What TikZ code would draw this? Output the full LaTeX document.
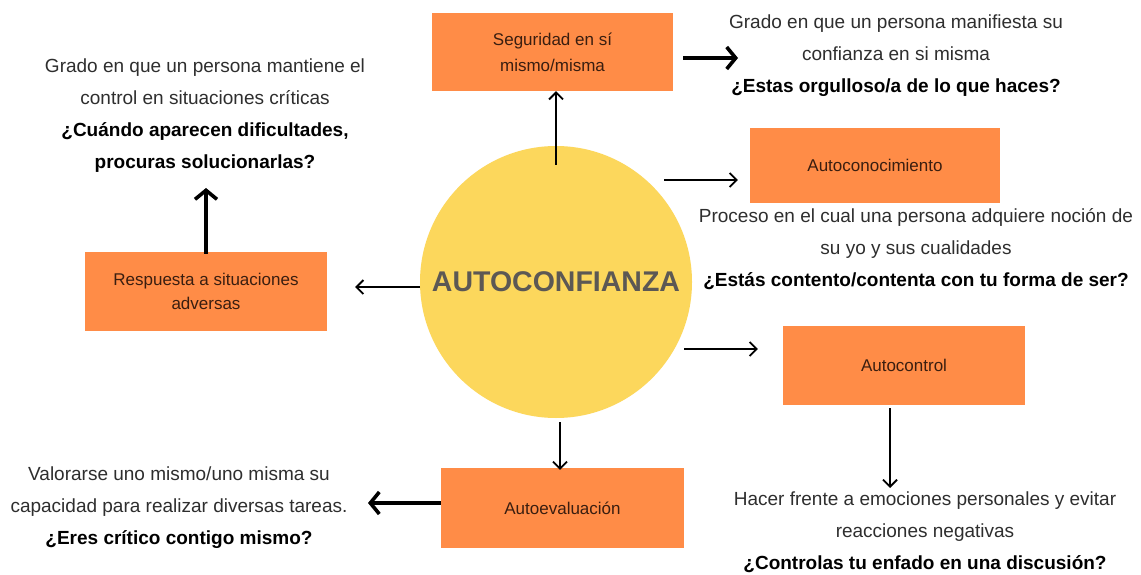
\documentclass[tikz,border=0pt]{standalone}
\usepackage{fontspec}
\setmainfont{Liberation Sans}
\usetikzlibrary{arrows.meta}
\definecolor{boxor}{HTML}{FF8C47}
\definecolor{circy}{HTML}{FCD75C}
\definecolor{titg}{HTML}{5C5854}
\definecolor{boxtxt}{HTML}{3A1E10}
\definecolor{desc}{HTML}{2E2E2E}
\begin{document}
\begin{tikzpicture}[x=1pt,y=-1pt,
  obox/.style={fill=boxor, draw=none, align=center, inner sep=0pt,
    text=boxtxt, font=\fontsize{17}{24}\selectfont},
  desctxt/.style={align=center, inner sep=0pt, text=desc,
    font=\fontsize{19}{32}\selectfont},
  thinarr/.style={draw=black, line width=1.8pt, -{Straight Barb[length=7pt,width=14pt,line width=1.8pt]}},
  thickarr/.style={draw=black, line width=3.6pt, -{Straight Barb[length=9pt,width=22pt,line width=3.6pt]}}
]
\useasboundingbox (0,0) rectangle (1141,575);
\fill[white] (0,0) rectangle (1141,575);

% central circle
\node[circle, fill=circy, minimum size=272pt, inner sep=0pt,
  font=\fontsize{28.5}{30}\selectfont\bfseries, text=titg] (core) at (556,282) {AUTOCONFIANZA};

% boxes
\node[obox, minimum width=241pt, minimum height=78pt] (seg) at (552.5,52) {Seguridad en sí\\[2pt]mismo/misma};
\node[obox, minimum width=250pt, minimum height=75pt] (conoc) at (875,165.5) {Autoconocimiento};
\node[obox, minimum width=242pt, minimum height=79pt] (ctrl) at (904,365.5) {Autocontrol};
\node[obox, minimum width=243pt, minimum height=80pt] (eval) at (562.5,508) {Autoevaluación};
\node[obox, minimum width=242pt, minimum height=79pt] (resp) at (206,291.5) {Respuesta a situaciones\\[0pt]adversas};

% description texts
\node[desctxt] (dseg) at (896,56) {Grado en que un persona manifiesta su\\confianza en si misma\\\textbf{\color{black}¿Estas orgulloso/a de lo que haces?}};
\node[desctxt] (dresp) at (205,116) {Grado en que un persona mantiene el\\control en situaciones críticas\\\textbf{\color{black}¿Cuándo aparecen dificultades,}\\\textbf{\color{black}procuras solucionarlas?}};
\node[desctxt] (dconoc) at (916,249) {Proceso en el cual una persona adquiere noción de\\su yo y sus cualidades\\\textbf{\color{black}¿Estás contento/contenta con tu forma de ser?}};
\node[desctxt] (dctrl) at (925,532) {Hacer frente a emociones personales y evitar\\reacciones negativas\\\textbf{\color{black}¿Controlas tu enfado en una discusión?}};
\node[desctxt] (deval) at (179,508) {Valorarse uno mismo/uno misma su\\capacidad para realizar diversas tareas.\\\textbf{\color{black}¿Eres crítico contigo mismo?}};

% free ends of connectors
\coordinate (c1) at (556,165);
\coordinate (c2) at (664,180);
\coordinate (c3) at (684,349);
\coordinate (c4) at (560,422);
\coordinate (c5) at (420,287);
\coordinate (t1) at (738,58);
\coordinate (t2) at (890,408);
\coordinate (t3) at (890,488);
\coordinate (t4) at (368,503);
\coordinate (t5) at (206,188);

% connectors
\draw[thinarr] (c1) -- (c1 |- seg.south);
\draw[thinarr] (c2) -- ([xshift=-12pt]conoc.west |- c2);
\draw[thinarr] (c3) -- ([xshift=-25pt]ctrl.west |- c3);
\draw[thinarr] (c4) -- ([yshift=-2pt]c4 |- eval.north);
\draw[thinarr] (c5) -- ([xshift=28pt]resp.east |- c5);
\draw[thickarr] ([xshift=10pt]seg.east |- t1) -- (t1);
\draw[thinarr] (t2) -- (t3);
\draw[thickarr] (eval.west |- t4) -- (t4);
\draw[thickarr] ([yshift=-2pt]resp.north) -- (t5);
\end{tikzpicture}
\end{document}
